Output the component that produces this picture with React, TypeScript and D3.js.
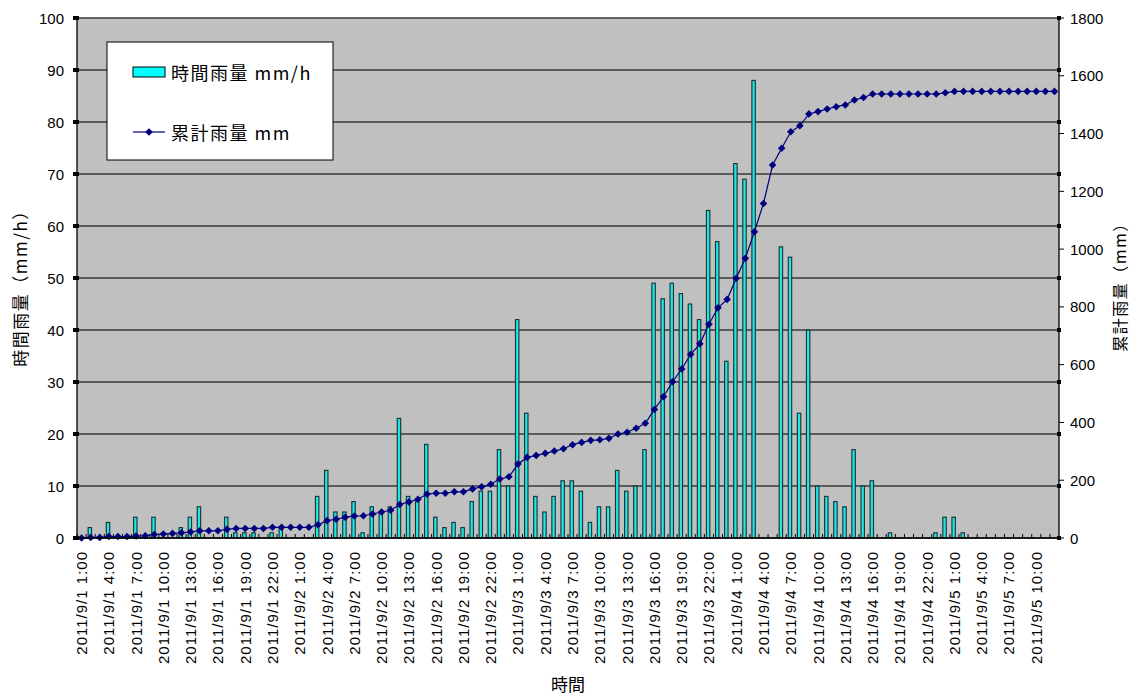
import React from "react";
import * as d3 from "d3";

// ---- data ----
const START_DAY = 1;
const START_HOUR = 1;
const HOURS = 108;
const categories: string[] = Array.from({ length: HOURS }, (_, i) => {
  const t = START_HOUR + i;
  const day = START_DAY + Math.floor(t / 24);
  const hr = t % 24;
  return `2011/9/${day} ${hr}:00`;
});

// hourly rainfall mm/h
const hourlyRain: number[] = [
  0, 2, 0, 3, 0, 0, 4, 0, 4, 0,
  0, 2, 4, 6, 0, 0, 4, 1, 1, 1,
  0, 1, 2, 0, 0, 0, 8, 13, 5, 5,
  7, 1, 6, 5, 6, 23, 8, 7, 18, 4,
  2, 3, 2, 7, 9, 9, 17, 10, 42, 24,
  8, 5, 8, 11, 11, 9, 3, 6, 6, 13,
  9, 10, 17, 49, 46, 49, 47, 45, 42, 63,
  57, 34, 72, 69, 88, 0, 0, 56, 54, 24,
  40, 10, 8, 7, 6, 17, 10, 11, 0, 1,
  0, 0, 0, 0, 1, 4, 4, 1, 0, 0,
  0, 0, 0, 0, 0, 0, 0, 0,
];

// cumulative rainfall mm
const cumulativeRain: number[] = [
  0, 2, 2, 5, 5, 5, 7, 8, 12, 14,
  16, 18, 21, 25, 25, 25, 30, 33, 33, 33,
  33, 37, 37, 37, 37, 37, 46, 60, 65, 72,
  76, 77, 83, 90, 96, 116, 125, 134, 152, 155,
  155, 160, 160, 170, 177, 186, 204, 212, 256, 279,
  286, 293, 301, 309, 323, 331, 338, 340, 345, 360,
  366, 380, 397, 445, 489, 541, 585, 636, 672, 740,
  797, 826, 899, 968, 1060, 1158, 1291, 1349, 1406, 1427,
  1468, 1476, 1485, 1493, 1499, 1516, 1525, 1537, 1537, 1537,
  1537, 1537, 1537, 1537, 1537, 1541, 1546, 1546, 1546, 1546,
  1546, 1546, 1546, 1546, 1546, 1546, 1546, 1546,
];

const leftTicks = [0, 10, 20, 30, 40, 50, 60, 70, 80, 90, 100];
const rightTicks = [0, 200, 400, 600, 800, 1000, 1200, 1400, 1600, 1800];
const seriesNames = ["時間雨量 mm/h", "累計雨量 mm"];
const yTitleLeft = "時間雨量（mm/h）";
const yTitleRight = "累計雨量（mm）";
const xTitle = "時間";

// ---- layout ----
const W = 1132;
const H = 694;
const PL = 77;
const PR = 1059;
const PT = 18;
const PB = 538;

const FONT = "'Liberation Sans', Arial, 'Noto Sans CJK JP', sans-serif";
const CJK = "'Noto Sans CJK JP', 'Liberation Sans', sans-serif";

export default function App() {
  const idx = categories.map((_, i) => i);
  const x = d3.scaleBand<number>().domain(idx).range([PL, PR]).padding(0);
  const bw = x.bandwidth();
  const cx = (i: number) => (x(i) as number) + bw / 2;
  const yL = d3.scaleLinear().domain([0, 100]).range([PB, PT]);
  const yR = d3.scaleLinear().domain([0, 1800]).range([PB, PT]);

  const line = d3
    .line<number>()
    .x((_, i) => cx(i))
    .y((d) => yR(d));

  const diamond = (px: number, py: number, r: number) =>
    `M${px},${py - r}L${px + r},${py}L${px},${py + r}L${px - r},${py}Z`;

  const barW = 3.4;

  return (
    <svg
      width={W}
      height={H}
      style={{ position: "absolute", left: 0, top: 0, background: "#fff" }}
    >
      <rect x={0} y={0} width={W} height={H} fill="#fff" />
      {/* plot area */}
      <rect x={PL} y={PT} width={PR - PL} height={PB - PT} fill="#C0C0C0" />
      {/* gridlines */}
      {leftTicks.map((t) => (
        <line
          key={"g" + t}
          x1={PL}
          x2={PR}
          y1={yL(t)}
          y2={yL(t)}
          stroke="#3a3a3a"
          strokeWidth={1.3}
        />
      ))}
      {/* bars */}
      {hourlyRain.map((v, i) =>
        v > 0 ? (
          <rect
            key={"b" + i}
            x={cx(i) - barW / 2 - 0.8}
            y={yL(v)}
            width={barW}
            height={PB - yL(v)}
            fill="#20E8E8"
            stroke="#183535"
            strokeWidth={1.15}
          />
        ) : null
      )}
      {/* category tick marks (inside) */}
      {idx.map((i) => (
        <line
          key={"ct" + i}
          x1={x(i) as number}
          x2={x(i) as number}
          y1={PB}
          y2={PB - 4}
          stroke="#000"
          strokeWidth={1}
        />
      ))}
      {/* cumulative line */}
      <path
        d={line(cumulativeRain) || ""}
        fill="none"
        stroke="#000080"
        strokeWidth={1.2}
      />
      {cumulativeRain.map((v, i) => (
        <path key={"m" + i} d={diamond(cx(i), yR(v), 3.8)} fill="#000080" />
      ))}
      {/* axes */}
      <line x1={PL} x2={PL} y1={PT} y2={PB} stroke="#000" strokeWidth={1.3} />
      <line x1={PR} x2={PR} y1={PT} y2={PB} stroke="#000" strokeWidth={1.3} />
      <line x1={PL} x2={PR} y1={PB} y2={PB} stroke="#000" strokeWidth={1.3} />
      {/* left ticks */}
      {leftTicks.map((t) => (
        <g key={"lt" + t}>
          <rect x={PL - 4} y={yL(t) - 2} width={6} height={4} fill="#000" />
          <text
            x={64}
            y={yL(t)}
            textAnchor="end"
            dominantBaseline="central"
            fontFamily={FONT}
            fontSize={15}
            fill="#000"
          >
            {t}
          </text>
        </g>
      ))}
      {/* right axis marks at gridlines */}
      {leftTicks.map((t) => (
        <rect
          key={"rg" + t}
          x={PR - 2}
          y={yL(t) - 2}
          width={4}
          height={4}
          fill="#000"
        />
      ))}
      {rightTicks.map((t) => (
        <g key={"rt" + t}>
          <line
            x1={PR}
            x2={PR + 5}
            y1={yR(t)}
            y2={yR(t)}
            stroke="#000"
            strokeWidth={1}
          />
          <text
            x={1070}
            y={yR(t)}
            textAnchor="start"
            dominantBaseline="central"
            fontFamily={FONT}
            fontSize={15}
            fill="#000"
          >
            {t}
          </text>
        </g>
      ))}
      {/* x labels */}
      {categories.map((c, i) =>
        i % 3 === 0 ? (
          <text
            key={"xl" + i}
            transform={`translate(${cx(i)},${551}) rotate(-90)`}
            textAnchor="end"
            dominantBaseline="central"
            fontFamily={FONT}
            fontSize={15}
            letterSpacing={1}
            fill="#000"
          >
            {c}
          </text>
        ) : null
      )}
      {/* titles */}
      <text
        transform={`translate(19,${284}) rotate(-90)`}
        textAnchor="middle"
        dominantBaseline="central"
        fontFamily={CJK}
        fontSize={17}
        letterSpacing={1.5}
        fill="#000"
      >
        {yTitleLeft}
      </text>
      <text
        transform={`translate(1119,${283}) rotate(-90)`}
        textAnchor="middle"
        dominantBaseline="central"
        fontFamily={CJK}
        fontSize={16}
        letterSpacing={1.5}
        fill="#000"
      >
        {yTitleRight}
      </text>
      <text
        x={568}
        y={683}
        textAnchor="middle"
        dominantBaseline="central"
        fontFamily={CJK}
        fontSize={17}
        fill="#000"
      >
        {xTitle}
      </text>
      {/* legend */}
      <rect
        x={107}
        y={42}
        width={226}
        height={118}
        fill="#fff"
        stroke="#000"
        strokeWidth={1}
      />
      <rect
        x={133}
        y={67}
        width={32}
        height={10}
        fill="#00FFFF"
        stroke="#000"
        strokeWidth={1}
      />
      <text
        x={171}
        y={72}
        dominantBaseline="central"
        fontFamily={CJK}
        fontSize={18}
        letterSpacing={1.5}
        fill="#000"
      >
        {seriesNames[0]}
      </text>
      <line x1={133} x2={165} y1={132} y2={132} stroke="#000080" strokeWidth={1.2} />
      <path d={diamond(149, 132, 3.8)} fill="#000080" />
      <text
        x={171}
        y={132}
        dominantBaseline="central"
        fontFamily={CJK}
        fontSize={18}
        letterSpacing={1.5}
        fill="#000"
      >
        {seriesNames[1]}
      </text>
    </svg>
  );
}
